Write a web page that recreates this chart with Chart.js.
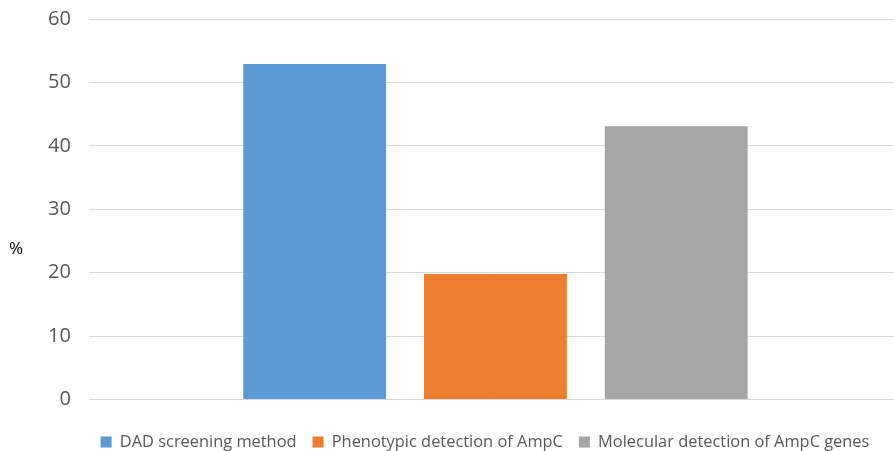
<!DOCTYPE html>
<html>
<head>
<meta charset="utf-8">
<script src="https://cdn.jsdelivr.net/npm/chart.js@4.4.1/dist/chart.umd.min.js"></script>
<style>
  html, body { margin: 0; padding: 0; background: #ffffff; }
  #outer { width: 894px; height: 451px; overflow: hidden; }
  #wrap { width: 902px; height: 451px; }
</style>
</head>
<body>
<div id="outer"><div id="wrap"><canvas id="chart"></canvas></div></div>
<script>
const categories = [''];
const seriesNames = ['DAD screening method', 'Phenotypic detection of AmpC', 'Molecular detection of AmpC genes'];
const seriesValues = [[52.9], [19.8], [43.1]];
const seriesColors = ['#5b9bd5', '#ed7d31', '#a5a5a5'];
const yTicks = [0, 10, 20, 30, 40, 50, 60];
const yTitle = '%';

const fontFamily = "'Open Sans', 'Liberation Sans', sans-serif";
const legendFontSize = 16.4;
const legendPadding = 16;

// draws the horizontal "%" axis title and moves the legend a bit
const yTitlePlugin = {
    id: 'yTitlePlugin',
    afterLayout(chart) {
        const legend = chart.legend;
        const area = chart.chartArea;
        const lineH = legendFontSize * 1.2;
        const newTop = area.bottom + 44 - legendPadding - lineH / 2;
        const shiftY = newTop - legend.top;
        legend.top += shiftY;
        legend.bottom += shiftY;
        legend.left += 19;
        legend.right += 19;
    },
    afterDraw(chart) {
        const ctx = chart.ctx;
        const area = chart.chartArea;
        ctx.save();
        ctx.fillStyle = '#000000';
        ctx.font = "17px " + fontFamily;
        ctx.textAlign = 'left';
        ctx.textBaseline = 'middle';
        ctx.fillText(yTitle, 9, area.top + (area.bottom - area.top) * 0.605);
        ctx.restore();
    }
};

const datasets = seriesNames.map((name, i) => ({
    label: name,
    data: seriesValues[i],
    backgroundColor: seriesColors[i],
    borderWidth: 0,
    categoryPercentage: 0.667,
    barPercentage: 0.79
}));

const ctx = document.getElementById('chart').getContext('2d');
window.chart = new Chart(ctx, {
    type: 'bar',
    data: {
        labels: categories,
        datasets: datasets
    },
    options: {
        responsive: true,
        maintainAspectRatio: false,
        animation: false,
        layout: { padding: { top: 19, left: 30, right: 0, bottom: 0 } },
        scales: {
            x: {
                grid: { display: false, drawTicks: false },
                border: { display: false },
                ticks: { display: false },
                afterFit: (axis) => { axis.height = 9; }
            },
            y: {
                min: 0,
                max: 60,
                afterBuildTicks: (axis) => { axis.ticks = yTicks.map(v => ({ value: v })); },
                afterFit: (axis) => { axis.paddingTop = 0; axis.paddingBottom = 0; },
                grid: { color: '#d9d9d9', lineWidth: 1, drawTicks: false },
                border: { display: false },
                ticks: {
                    color: '#595959',
                    font: { family: fontFamily, size: 20 },
                    padding: 18
                }
            }
        },
        plugins: {
            legend: {
                display: true,
                position: 'bottom',
                labels: {
                    color: '#595959',
                    font: { family: fontFamily, size: legendFontSize },
                    boxWidth: 11,
                    boxHeight: 11,
                    padding: legendPadding
                }
            },
            tooltip: { enabled: false }
        }
    },
    plugins: [yTitlePlugin]
});
</script>
</body>
</html>
